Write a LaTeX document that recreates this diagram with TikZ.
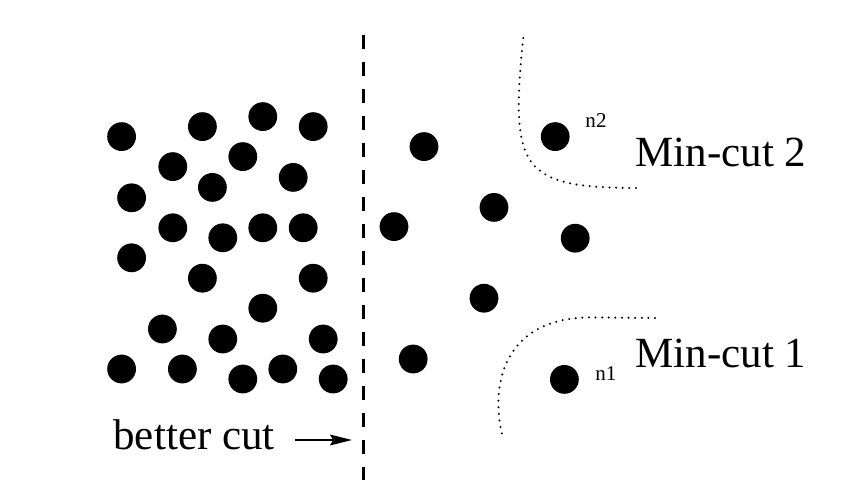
\documentclass[tikz,border=0pt]{standalone}
\usepackage{fontspec}
\setmainfont{Liberation Serif}
\usepackage{tikz}
\usetikzlibrary{arrows.meta,positioning,calc}

\begin{document}
\begin{tikzpicture}[
  every node/.style={font=\fontsize{30.6}{36}\selectfont},
  vx/.style={circle,fill=black,inner sep=0pt,minimum size=0.72cm},
  lbl/.style={inner sep=0pt,anchor=base west},
  tag/.style={inner sep=0pt,anchor=base west,font=\fontsize{15}{18}\selectfont},
  cutline/.style={line width=2.1pt,dash pattern=on 0.35cm off 0.325cm},
  mincut/.style={line width=1.6pt,line cap=round,dash pattern=on 0pt off 4.7pt},
  arr/.style={line width=0.85pt,-{Stealth[length=0.55cm,width=0.27cm,inset=0.08cm]}}]
 \useasboundingbox (0,0) rectangle (21.625,12.375);
 % left part
 \foreach \p [count=\i] in {(3.04,8.96),(5.06,9.21),(6.57,9.46),(7.83,9.21),(4.32,8.21),
   (6.07,8.46),(3.29,7.43),(5.31,7.69),(7.33,7.94),(4.32,6.68),(5.57,6.43),(6.57,6.68),
   (7.58,6.68),(3.29,5.93),(5.06,5.42),(7.83,5.42),(6.57,4.67),(4.06,4.15),(5.57,3.90),
   (8.08,3.90),(3.04,3.15),(4.56,3.15),(6.07,2.90),(7.07,3.15),(8.33,2.90)}
   \node[vx] (l\i) at \p {};
 % right part
 \node[vx] (ra) at (10.60,8.71) {};
 \node[vx] (n2) at (13.88,8.96) {};
 \node[vx] (rb) at (12.35,7.19) {};
 \node[vx] (rc) at (9.85,6.71) {};
 \node[vx] (rd) at (14.38,6.42) {};
 \node[vx] (re) at (12.10,4.92) {};
 \node[vx] (rf) at (10.33,3.40) {};
 \node[vx] (n1) at (14.11,2.89) {};
 \node[tag] (t2) at (14.63,9.19) {n2};
 \node[tag] (t1) at (14.875,2.875) {n1};
 \node[lbl] (mc2) at (15.88,8.21) {Min-cut 2};
 \node[lbl] (mc1) at (15.88,3.18) {Min-cut 1};
 % cuts
 \coordinate (ctop) at (9.08,11.5);
 \coordinate (cbot) at (9.08,0.375);
 \draw[cutline] (ctop) -- (cbot);
 \coordinate (a0) at (13.08,11.425);
 \coordinate (a1) at (16.0,7.675);
 \draw[mincut] (a0) .. controls (12.75,8.125) and (13.0,7.675) .. (a1);
 \coordinate (b0) at (16.375,4.425);
 \coordinate (b1) at (14.75,4.44);
 \coordinate (b2) at (12.575,1.425);
 \draw[mincut] (b0) -- (b1) .. controls (12.5,4.425) and (12.25,2.625) .. (b2);
 \node[lbl] (bc) at (2.83,1.15) {better cut};
 \coordinate (cutpt) at (8.8,1.375);
 \draw[arr] ([shift={(0.5,0.225)}]bc.base east) -- (cutpt);
\end{tikzpicture}
\end{document}
